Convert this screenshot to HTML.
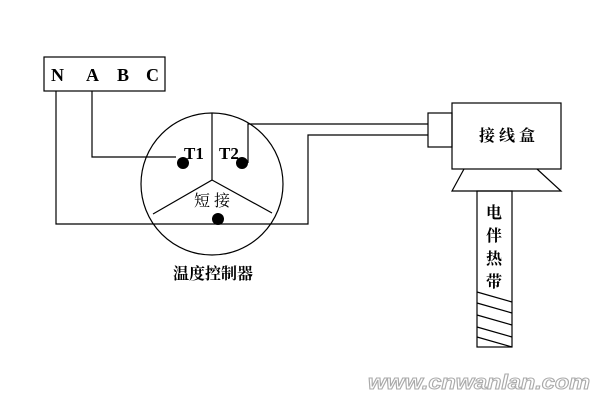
<!DOCTYPE html>
<html><head><meta charset="utf-8"><style>
html,body{margin:0;padding:0;background:#fff;}
svg{display:block;}
</style></head><body>
<svg width="600" height="400" viewBox="0 0 600 400" xmlns="http://www.w3.org/2000/svg">
<g fill="none" stroke="#000" stroke-width="1.2">
<rect x="44" y="57" width="121" height="34"/>
<circle cx="212" cy="184" r="71"/>
<polyline points="212,113 212,180 153,214"/>
<line x1="212" y1="180" x2="272" y2="213"/>
<polyline points="56,91 56,224 308,224 308,135 428,135"/>
<polyline points="92,91 92,157 176,157"/>
<polyline points="248,163 248,124 428,124"/>
<rect x="428" y="113" width="24" height="34"/>
<rect x="452" y="103" width="109" height="66"/>
<polyline points="464,169 452,191 561,191 537,169"/>
<rect x="477" y="191" width="35" height="156"/>
<line x1="477" y1="292" x2="512" y2="302"/>
<line x1="477" y1="303" x2="512" y2="313"/>
<line x1="477" y1="315" x2="512" y2="325"/>
<line x1="477" y1="327" x2="512" y2="337"/>
<line x1="477" y1="337" x2="512" y2="347"/>
</g>
<g fill="#000">
<circle cx="183" cy="163" r="6"/>
<circle cx="242" cy="163" r="6"/>
<circle cx="218" cy="219" r="6"/>
</g>
<g font-family="Liberation Serif, serif" font-weight="bold" font-size="18" fill="#000">
<text x="51" y="81">N</text>
<text x="86" y="81">A</text>
<text x="117" y="81">B</text>
<text x="146" y="81">C</text>
<text x="184" y="159" font-size="17">T1</text>
<text x="219" y="159" font-size="17">T2</text>
</g>
<g font-family="Liberation Serif, Noto Serif CJK SC, serif" fill="#000" text-anchor="middle">
<text x="214" y="206" font-size="16" letter-spacing="4">短接</text>
<text x="213" y="279" font-size="16" font-weight="bold">温度控制器</text>
<text x="509" y="141" font-size="16" font-weight="bold" letter-spacing="4">接线盒</text>
<text x="494" y="218" font-size="16" font-weight="bold">电</text>
<text x="494" y="241" font-size="16" font-weight="bold">伴</text>
<text x="494" y="264" font-size="16" font-weight="bold">热</text>
<text x="494" y="287" font-size="16" font-weight="bold">带</text>
</g>
<text x="368" y="389" font-family="Liberation Sans, sans-serif" font-style="italic" font-weight="bold" font-size="20" fill="#fff" stroke="#aaa" stroke-width="1" textLength="222" lengthAdjust="spacingAndGlyphs">www.cnwanlan.com</text>
</svg>
</body></html>
